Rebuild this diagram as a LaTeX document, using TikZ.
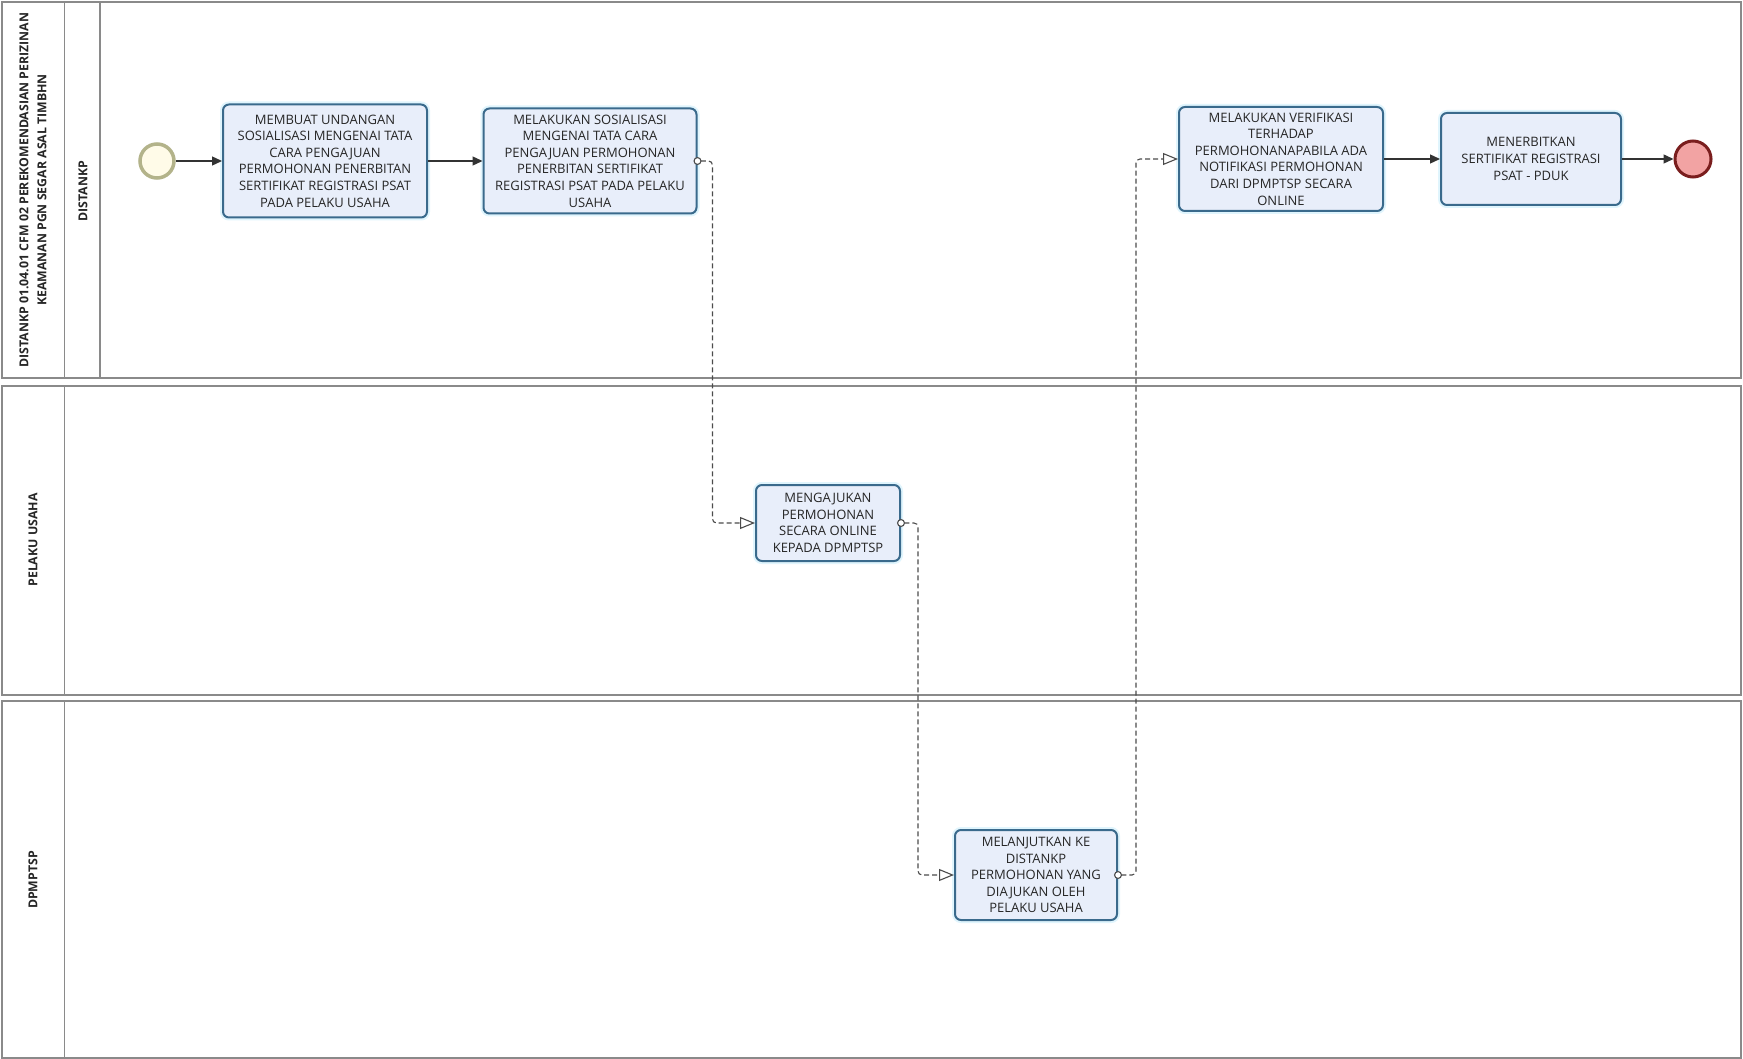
\documentclass[tikz,border=0pt]{standalone}
\usepackage{fontspec}
\setmainfont{Open Sans}
\usetikzlibrary{arrows.meta}
\definecolor{taskfill}{HTML}{E8EEFA}
\definecolor{taskline}{HTML}{3A6A8C}
\definecolor{poolline}{HTML}{8A8A8A}
\definecolor{startline}{HTML}{B3B38A}
\definecolor{startfill}{HTML}{FFFBE8}
\definecolor{endfill}{HTML}{F2A3A3}
\definecolor{endline}{HTML}{7A1E1E}
\tikzset{
  task/.style={draw=taskline, line width=2pt, fill=taskfill, rounded corners=6pt,
    align=center, inner sep=2pt, font=\fontsize{13}{16.6}\selectfont, text=black!85,
    preaction={draw=cyan!12, line width=6pt}},
  startev/.style={circle, draw=startline, line width=3.5pt, fill=startfill, minimum size=34pt, inner sep=0pt},
  endev/.style={circle, draw=endline, line width=3pt, fill=endfill, minimum size=36pt, inner sep=0pt},
  seq/.style={line width=1.3pt, draw=black!80, -{Triangle[length=10pt,width=9pt]}},
  msg/.style={line width=1.1pt, draw=black!70, dash pattern=on 5pt off 3pt, rounded corners=4pt,
    {Circle[fill=white,length=8pt,width=8pt]}-{Triangle[open,length=15pt,width=12pt]}},
  pool/.style={draw=poolline, line width=1.5pt},
  plabel/.style={rotate=90, align=center, font=\fontsize{12.3}{18}\selectfont\bfseries, text=black!85}
}
\begin{document}
\begin{tikzpicture}[x=1pt,y=-1pt]
\useasboundingbox (0,0) rectangle (1743,1059);
\fill[white] (0,0) rectangle (1743,1059);
% pools
\draw[pool] (2,2) rectangle (1741,378);
\draw[pool] (64.5,2) -- (64.5,378);
\draw[pool] (100,2) -- (100,378);
\draw[pool] (2,386) rectangle (1741,695);
\draw[pool] (64.5,386) -- (64.5,695);
\draw[pool] (2,701) rectangle (1741,1058);
\draw[pool] (64.5,701) -- (64.5,1058);
\node[plabel] (p1) at (33,190) {DISTANKP 01.04.01 CFM 02 PEREKOMENDASIAN PERIZINAN\\KEAMANAN PGN SEGAR ASAL TIMBHN};
\node[plabel] (l1) at (83,191) {DISTANKP};
\node[plabel] (p2) at (33,540) {PELAKU USAHA};
\node[plabel] (p3) at (33,880) {DPMPTSP};
% events and tasks
\node[startev] (s) at (157,161) {};
\node[task, minimum width=204pt, minimum height=113pt] (t1) at (325,161)
  {MEMBUAT UNDANGAN\\SOSIALISASI MENGENAI TATA\\CARA PENGAJUAN\\PERMOHONAN PENERBITAN\\SERTIFIKAT REGISTRASI PSAT\\PADA PELAKU USAHA};
\node[task, minimum width=213pt, minimum height=105pt] (t2) at (590,161)
  {MELAKUKAN SOSIALISASI\\MENGENAI TATA CARA\\PENGAJUAN PERMOHONAN\\PENERBITAN SERTIFIKAT\\REGISTRASI PSAT PADA PELAKU\\USAHA};
\node[task, minimum width=144pt, minimum height=76pt] (t3) at (828,523)
  {MENGAJUKAN\\PERMOHONAN\\SECARA ONLINE\\KEPADA DPMPTSP};
\node[task, minimum width=162pt, minimum height=90pt] (t4) at (1036,875)
  {MELANJUTKAN KE\\DISTANKP\\PERMOHONAN YANG\\DIAJUKAN OLEH\\PELAKU USAHA};
\node[task, minimum width=204pt, minimum height=104pt] (t5) at (1281,159)
  {MELAKUKAN VERIFIKASI\\TERHADAP\\PERMOHONANAPABILA ADA\\NOTIFIKASI PERMOHONAN\\DARI DPMPTSP SECARA\\ONLINE};
\node[task, minimum width=180pt, minimum height=92pt] (t6) at (1531,159)
  {MENERBITKAN\\SERTIFIKAT REGISTRASI\\PSAT - PDUK};
\node[endev] (e) at (1693,159) {};
% sequence flows
\draw[seq] (s) -- (t1);
\draw[seq] (t1) -- (t2);
\draw[seq] (t5) -- (t6);
\draw[seq] (t6) -- (e);
% message flows
\draw[msg] ([xshift=-4pt]t2.east) -- ++(19,0) |- (t3.west);
\draw[msg] ([xshift=-4pt]t3.east) -- ++(21,0) |- (t4.west);
\draw[msg] ([xshift=-4pt]t4.east) -- ++(22,0) |- (t5.west);
\end{tikzpicture}
\end{document}
